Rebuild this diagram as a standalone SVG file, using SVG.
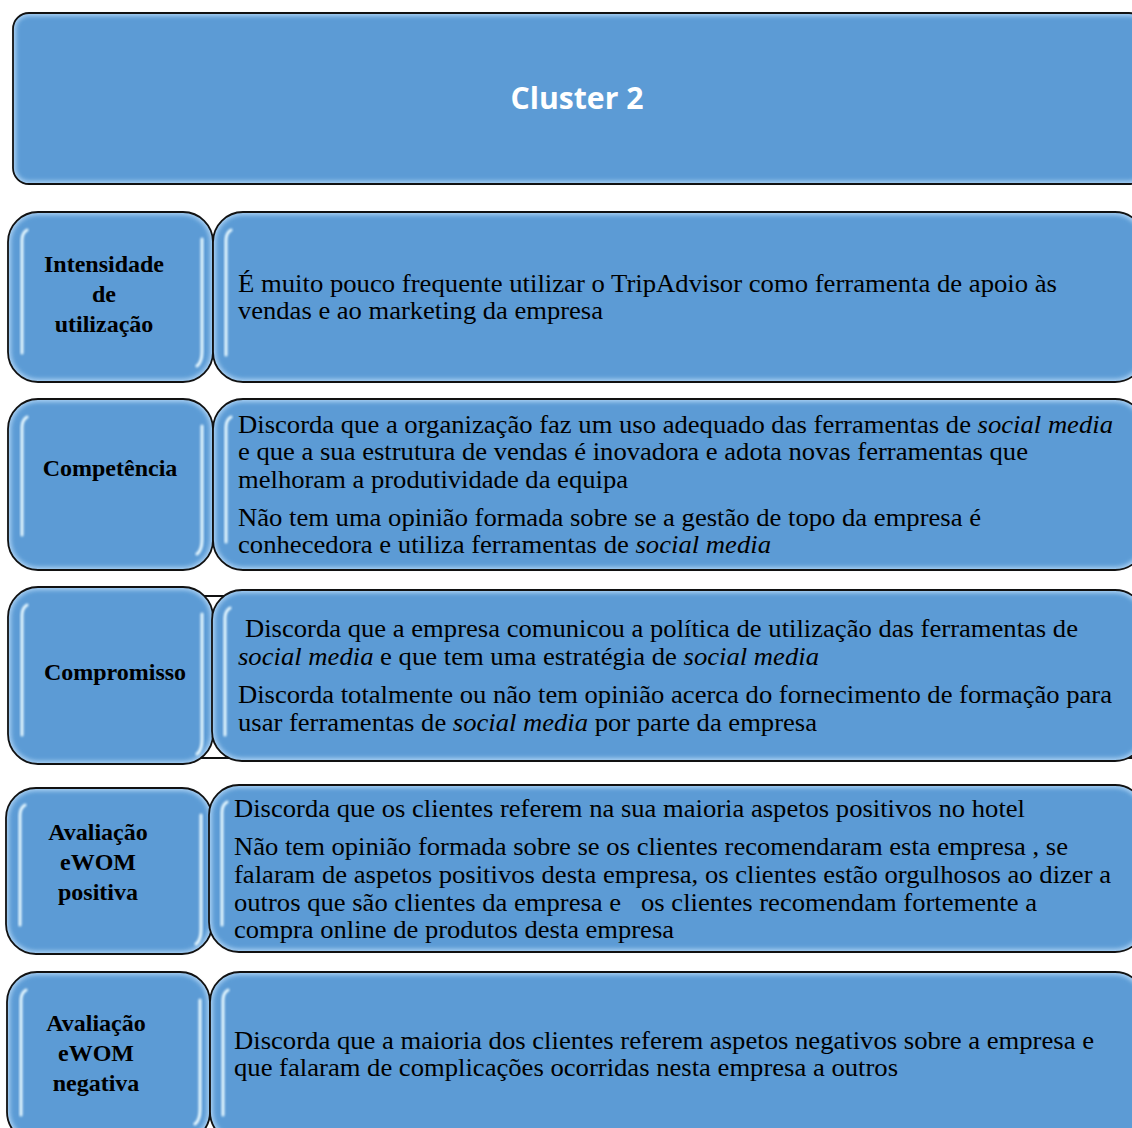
<svg xmlns="http://www.w3.org/2000/svg" width="1132" height="1128" viewBox="0 0 1132 1128">
<defs>
<filter id="soft" x="-5%" y="-5%" width="110%" height="110%"><feGaussianBlur stdDeviation="2.2"/></filter>
<filter id="glow" x="-50%" y="-10%" width="200%" height="120%"><feGaussianBlur stdDeviation="0.8"/></filter>
</defs>
<style>
.edge{fill:#a9d0f3}
.core{fill:#5b9bd5;filter:url(#soft)}
.out{fill:none;stroke:#111;stroke-width:1.8}
.hl{fill:none;stroke:#e6f8ff;stroke-width:3;stroke-linecap:round;filter:url(#glow)}
.lab{font-family:"Liberation Serif","Times New Roman",serif;font-weight:bold;font-size:24px;fill:#000;text-anchor:middle}
.txt{font-family:"Liberation Serif","Times New Roman",serif;font-size:25px;fill:#000;white-space:pre}
.title{font-family:"Open Sans","Liberation Sans",sans-serif;font-weight:bold;font-size:30px;fill:#fff;text-anchor:middle}
</style>
<rect width="1132" height="1128" fill="#fff"/>

<g id="cluster">
<rect class="edge" x="13" y="13" width="1132" height="171" rx="16"/>
<rect class="core" x="16" y="16" width="1126" height="165" rx="13"/>
<path class="hl" d="M25 29V166"/>
<path class="hl" d="M1128 31V168"/>
<rect class="out" x="13" y="13" width="1132" height="171" rx="16"/>
<text class="title" x="577" y="109" textLength="133" lengthAdjust="spacingAndGlyphs">Cluster 2</text>
</g>

<g id="connectors"></g>

<g id="row1-label">
<rect class="edge" x="8" y="212" width="205" height="170" rx="30"/>
<rect class="core" x="11" y="215" width="199" height="164" rx="27"/>
<path class="hl" d="M22 353V240Q22 233 27 230"/>
<path class="hl" d="M202 239V352Q202 362 197 366"/>
<rect class="out" x="8" y="212" width="205" height="170" rx="30"/>
<text class="lab" x="104" y="272">Intensidade</text>
<text class="lab" x="104" y="302">de</text>
<text class="lab" x="104" y="332">utilização</text>
</g>
<g id="row1-text">
<rect class="edge" x="213" y="212" width="932" height="170" rx="30"/>
<rect class="core" x="216" y="215" width="926" height="164" rx="27"/>
<path class="hl" d="M226 355V240Q226 233 231 230"/>
<rect class="out" x="213" y="212" width="932" height="170" rx="30"/>
<text class="txt" x="238" y="292" textLength="819" lengthAdjust="spacingAndGlyphs">É muito pouco frequente utilizar o TripAdvisor como ferramenta de apoio às</text>
<text class="txt" x="238" y="319" textLength="365" lengthAdjust="spacingAndGlyphs">vendas e ao marketing da empresa</text>
</g>

<g id="row2-label">
<rect class="edge" x="8" y="399" width="205" height="171" rx="30"/>
<rect class="core" x="11" y="402" width="199" height="165" rx="27"/>
<path class="hl" d="M22 535V427Q22 420 27 417"/>
<path class="hl" d="M202 426V540Q202 550 197 554"/>
<rect class="out" x="8" y="399" width="205" height="171" rx="30"/>
<text class="lab" x="110" y="476">Competência</text>
</g>
<g id="row2-text">
<rect class="edge" x="213" y="399" width="932" height="171" rx="30"/>
<rect class="core" x="216" y="402" width="926" height="165" rx="27"/>
<path class="hl" d="M226 542V427Q226 420 231 417"/>
<rect class="out" x="213" y="399" width="932" height="171" rx="30"/>
<text class="txt" x="238" y="433" textLength="875" lengthAdjust="spacingAndGlyphs">Discorda que a organização faz um uso adequado das ferramentas de <tspan font-style="italic">social media</tspan></text>
<text class="txt" x="238" y="460" textLength="790" lengthAdjust="spacingAndGlyphs">e que a sua estrutura de vendas é inovadora e adota novas ferramentas que</text>
<text class="txt" x="238" y="488" textLength="390" lengthAdjust="spacingAndGlyphs">melhoram a produtividade da equipa</text>
<text class="txt" x="238" y="526" textLength="743" lengthAdjust="spacingAndGlyphs">Não tem uma opinião formada sobre se a gestão de topo da empresa é</text>
<text class="txt" x="238" y="553" textLength="533" lengthAdjust="spacingAndGlyphs">conhecedora e utiliza ferramentas de <tspan font-style="italic">social media</tspan></text>
</g>

<g id="row3-frame">
<rect x="150" y="596" width="995" height="162" fill="#fff" stroke="#111" stroke-width="2"/>
</g>
<g id="row3-label">
<rect class="edge" x="8" y="587" width="205" height="177" rx="30"/>
<rect class="core" x="11" y="590" width="199" height="171" rx="27"/>
<path class="hl" d="M22 735V615Q22 608 27 605"/>
<path class="hl" d="M202 614V740Q202 750 197 754"/>
<rect class="out" x="8" y="587" width="205" height="177" rx="30"/>
<text class="lab" x="115" y="680">Compromisso</text>
</g>
<g id="row3-text">
<rect class="edge" x="212" y="590" width="933" height="171" rx="30"/>
<rect class="core" x="215" y="593" width="927" height="165" rx="27"/>
<path class="hl" d="M225 735V618Q225 611 230 608"/>
<rect class="out" x="212" y="590" width="933" height="171" rx="30"/>
<text class="txt" x="245" y="637" textLength="833" lengthAdjust="spacingAndGlyphs">Discorda que a empresa comunicou a política de utilização das ferramentas de</text>
<text class="txt" x="238" y="665" textLength="581" lengthAdjust="spacingAndGlyphs"><tspan font-style="italic">social media</tspan> e que tem uma estratégia de <tspan font-style="italic">social media</tspan></text>
<text class="txt" x="238" y="703" textLength="874" lengthAdjust="spacingAndGlyphs">Discorda totalmente ou não tem opinião acerca do fornecimento de formação para</text>
<text class="txt" x="238" y="731" textLength="579" lengthAdjust="spacingAndGlyphs">usar ferramentas de <tspan font-style="italic">social media</tspan> por parte da empresa</text>
</g>

<g id="row4-label">
<rect class="edge" x="6" y="788" width="206" height="166" rx="30"/>
<rect class="core" x="9" y="791" width="200" height="160" rx="27"/>
<path class="hl" d="M20 925V815Q20 808 25 805"/>
<path class="hl" d="M201 815V930Q201 940 196 944"/>
<rect class="out" x="6" y="788" width="206" height="166" rx="30"/>
<text class="lab" x="98" y="840">Avaliação</text>
<text class="lab" x="98" y="870">eWOM</text>
<text class="lab" x="98" y="900">positiva</text>
</g>
<g id="row4-text">
<rect class="edge" x="209" y="785" width="936" height="167" rx="30"/>
<rect class="core" x="212" y="788" width="930" height="161" rx="27"/>
<path class="hl" d="M222 925V812Q222 805 227 802"/>
<rect class="out" x="209" y="785" width="936" height="167" rx="30"/>
<text class="txt" x="234" y="817" textLength="791" lengthAdjust="spacingAndGlyphs">Discorda que os clientes referem na sua maioria aspetos positivos no hotel</text>
<text class="txt" x="234" y="855" textLength="834" lengthAdjust="spacingAndGlyphs">Não tem opinião formada sobre se os clientes recomendaram esta empresa , se</text>
<text class="txt" x="234" y="883" textLength="877" lengthAdjust="spacingAndGlyphs">falaram de aspetos positivos desta empresa, os clientes estão orgulhosos ao dizer a</text>
<text class="txt" x="234" y="911" textLength="803" lengthAdjust="spacingAndGlyphs">outros que são clientes da empresa e   os clientes recomendam fortemente a</text>
<text class="txt" x="234" y="938" textLength="440" lengthAdjust="spacingAndGlyphs">compra online de produtos desta empresa</text>
</g>

<g id="row5-label">
<rect class="edge" x="7" y="972" width="203" height="170" rx="30"/>
<rect class="core" x="10" y="975" width="197" height="164" rx="27"/>
<path class="hl" d="M21 1115V1000Q21 993 26 990"/>
<path class="hl" d="M200 1000V1110Q200 1120 195 1124"/>
<rect class="out" x="7" y="972" width="203" height="170" rx="30"/>
<text class="lab" x="96" y="1031">Avaliação</text>
<text class="lab" x="96" y="1061">eWOM</text>
<text class="lab" x="96" y="1091">negativa</text>
</g>
<g id="row5-text">
<rect class="edge" x="210" y="972" width="935" height="170" rx="30"/>
<rect class="core" x="213" y="975" width="929" height="164" rx="27"/>
<path class="hl" d="M223 1115V1000Q223 993 228 990"/>
<path class="hl" d="M1128 1010V1118"/>
<rect class="out" x="210" y="972" width="935" height="170" rx="30"/>
<text class="txt" x="234" y="1049" textLength="860" lengthAdjust="spacingAndGlyphs">Discorda que a maioria dos clientes referem aspetos negativos sobre a empresa e</text>
<text class="txt" x="234" y="1076" textLength="664" lengthAdjust="spacingAndGlyphs">que falaram de complicações ocorridas nesta empresa a outros</text>
</g>
</svg>
